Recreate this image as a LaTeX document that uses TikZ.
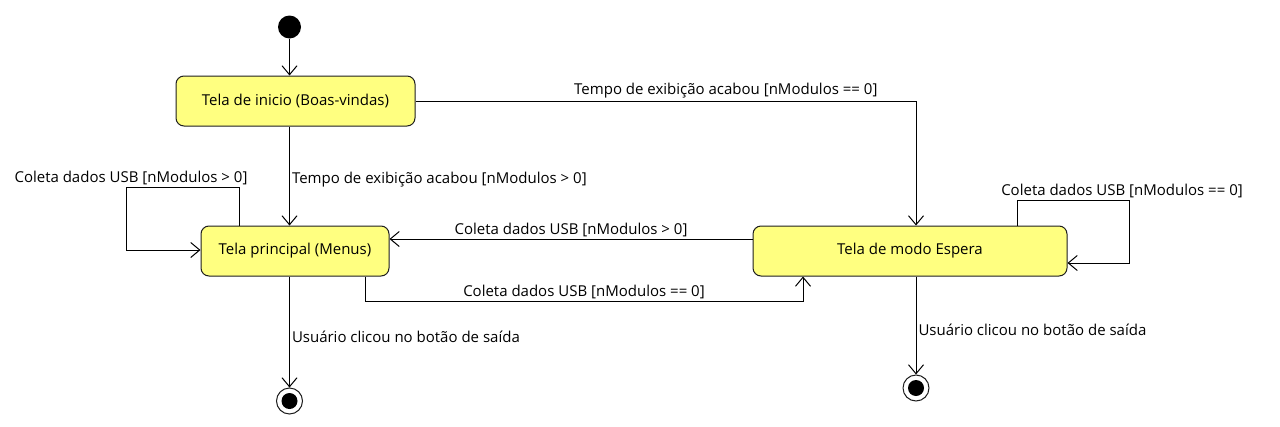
\documentclass[tikz,border=0pt]{standalone}
\usepackage{fontspec}
\setmainfont{Open Sans}
\usetikzlibrary{positioning, arrows.meta}
\definecolor{statefill}{RGB}{255,255,128}
\definecolor{lineclr}{RGB}{30,30,30}

\begin{document}
\begin{tikzpicture}[x=1pt, y=-1pt, >={Straight Barb[length=9pt, width=15pt]}, line width=1pt]
        % Define styles for shapes
        \tikzstyle{state} = [draw=lineclr, rounded corners=8pt, fill=statefill, minimum height=50pt, font=\fontsize{15}{18}\selectfont]
        \tikzstyle{initial} = [circle, fill=black, minimum size=23pt, inner sep=0pt]
        \tikzstyle{final} = [circle, draw=lineclr, fill=white, minimum size=26pt, inner sep=0pt]
        \tikzstyle{lbl} = [font=\fontsize{15}{18}\selectfont, inner sep=2pt]
        \useasboundingbox (0,0) rectangle (1280,426);
        % Draw shapes
        \node[initial] (init) at (289.5, 27) {};
        \node[state, minimum width=239pt] (inicio) at (295.5, 101) {Tela de inicio (Boas-vindas)};
        \node[state, minimum width=188pt] (principal) at (295, 251) {Tela principal (Menus)};
        \node[state, minimum width=314pt] (espera) at (910, 251) {Tela de modo Espera};
        \node[final] (final1) at (289.5, 401) {};
        \fill (final1) circle (8pt);
        \node[final] (final2) at (916, 388) {};
        \fill (final2) circle (8pt);

        % Draw arrows
        \draw[->] (init) -- (init |- inicio.north);
        \draw[->] (init |- inicio.south) -- (init |- principal.north) node[pos=0.54, right, lbl] {Tempo de exibição acabou [nModulos > 0]};
        \draw[->] (inicio.east) -| (final2 |- espera.north) node[pos=0.31, above, lbl] {Tempo de exibição acabou [nModulos == 0]};
        \draw[->] ([yshift=12pt]espera.west) -- ([yshift=12pt]principal.east) node[midway, above, lbl] {Coleta dados USB [nModulos > 0]};
        \draw[->] ([xshift=70pt]principal.south) -- ++(0,25) -| ([xshift=-107pt]espera.south) node[pos=0.25, above, lbl] {Coleta dados USB [nModulos == 0]};
        % self loops
        \draw[->] ([xshift=-56pt]principal.north) -- ++(0,-38) -- ++(-113,0) node[above, lbl, xshift=5pt] {Coleta dados USB [nModulos > 0]} |- ([yshift=1pt]principal.west);
        \draw[->] ([xshift=107pt]espera.north) -- ++(0,-25) -- ++(112,0) node[above, lbl, xshift=-7pt] {Coleta dados USB [nModulos == 0]} |- ([yshift=-12pt]espera.east);
        % exits
        \draw[->] (init |- principal.south) -- (final1) node[pos=0.54, right, lbl] {Usuário clicou no botão de saída};
        \draw[->] (final2 |- espera.south) -- (final2) node[pos=0.54, right, lbl] {Usuário clicou no botão de saída};
    \end{tikzpicture}
\end{document}
